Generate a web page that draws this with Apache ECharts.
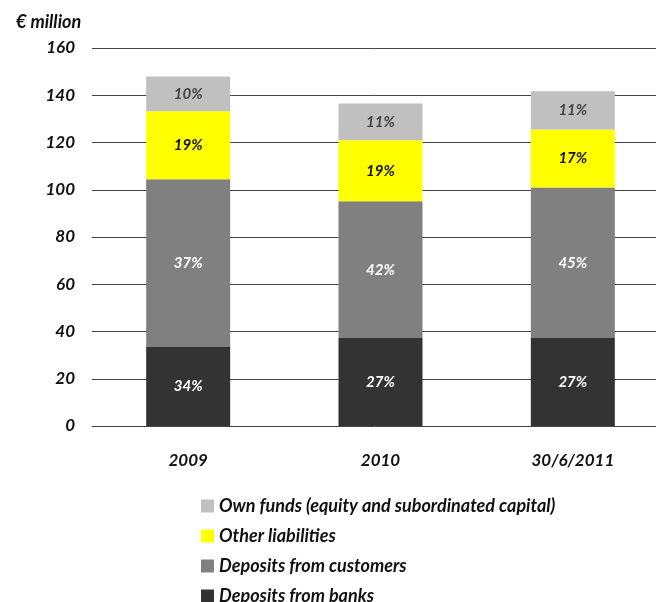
<!DOCTYPE html>
<html><head><meta charset="utf-8">
<script src="https://cdn.jsdelivr.net/npm/echarts@6/dist/echarts.min.js"></script>
<style>html,body{margin:0;padding:0;background:#fff}#c{width:656px;height:602px}</style>
</head><body><div id="c"></div>
<script>
const categories = ['2009', '2010', '30/6/2011'];
const banks = [33.4, 37.2, 37.2];
const customers = [71.0, 57.9, 63.8];
const other = [28.8, 25.8, 24.5];
const ownFunds = [14.7, 15.6, 16.2];
const totals = [147.9, 136.5, 141.7];
const totalLabels = ['147,9', '136,5', '141,7'];
const banksPct = ['34%', '27%', '27%'];
const customersPct = ['37%', '42%', '45%'];
const otherPct = ['19%', '19%', '17%'];
const ownPct = ['10%', '11%', '11%'];
const yTicks = [0, 20, 40, 60, 80, 100, 120, 140, 160];

const FONT = 'Lato';
const chart = echarts.init(document.getElementById('c'), null, {renderer: 'canvas'});
function lbl(arr, color) {
  return {show: true, position: 'inside', color: color, fontFamily: FONT, fontStyle: 'italic', fontWeight: 'bold', fontSize: 15,
    formatter: p => arr[p.dataIndex]};
}
chart.setOption({
  animation: false,
  title: {text: '€ million', left: 11, top: 8, textStyle: {fontFamily: FONT, fontStyle: 'italic', fontWeight: 'bold', fontSize: 18, color: '#111'}},
  grid: {left: 92, right: -13, top: 48, bottom: 176, outerBoundsMode: 'none', containLabel: false},
  legend: {
    orient: 'vertical', left: 196, top: 492, height: 120, itemGap: 12, itemWidth: 13, itemHeight: 13,
    data: ['Own funds (equity and subordinated capital)', 'Other liabilities', 'Deposits from customers', 'Deposits from banks'],
    textStyle: {fontFamily: FONT, fontStyle: 'italic', fontWeight: 'bold', fontSize: 18, color: '#111'},
    icon: 'rect', selectedMode: false
  },
  xAxis: {
    type: 'category', data: categories,
    axisLine: {show: false}, axisTick: {show: false},
    axisLabel: {margin: 26, fontFamily: FONT, fontStyle: 'italic', fontWeight: 'bold', fontSize: 17, color: '#111'}
  },
  yAxis: {
    type: 'value', min: 0, max: 160, interval: 20,
    axisLine: {show: false}, axisTick: {show: false},
    axisLabel: {margin: 17, fontFamily: FONT, fontStyle: 'italic', fontWeight: 'bold', fontSize: 17, color: '#111',
      formatter: v => yTicks.includes(v) ? String(v) : ''},
    splitLine: {lineStyle: {color: '#444', width: 1}}
  },
  series: [
    {name: 'Deposits from banks', type: 'bar', stack: 's', data: banks, barWidth: 84, itemStyle: {color: '#333333'}, label: lbl(banksPct, '#fff')},
    {name: 'Deposits from customers', type: 'bar', stack: 's', data: customers, itemStyle: {color: '#808080'}, label: lbl(customersPct, '#fff')},
    {name: 'Other liabilities', type: 'bar', stack: 's', data: other, itemStyle: {color: '#ffff00'}, label: lbl(otherPct, '#111')},
    {name: 'Own funds (equity and subordinated capital)', type: 'bar', stack: 's', data: ownFunds, itemStyle: {color: '#c0c0c0'}, label: lbl(ownPct, '#444')},
    {name: 'totals', type: 'line', data: totals, symbol: 'none', lineStyle: {opacity: 0}, silent: true,
      label: {show: true, position: 'top', distance: 5, fontFamily: FONT, fontStyle: 'italic', fontWeight: 'bold', fontSize: 16, color: '#111',
        formatter: p => totalLabels[p.dataIndex]}}
  ]
});
</script></body></html>
